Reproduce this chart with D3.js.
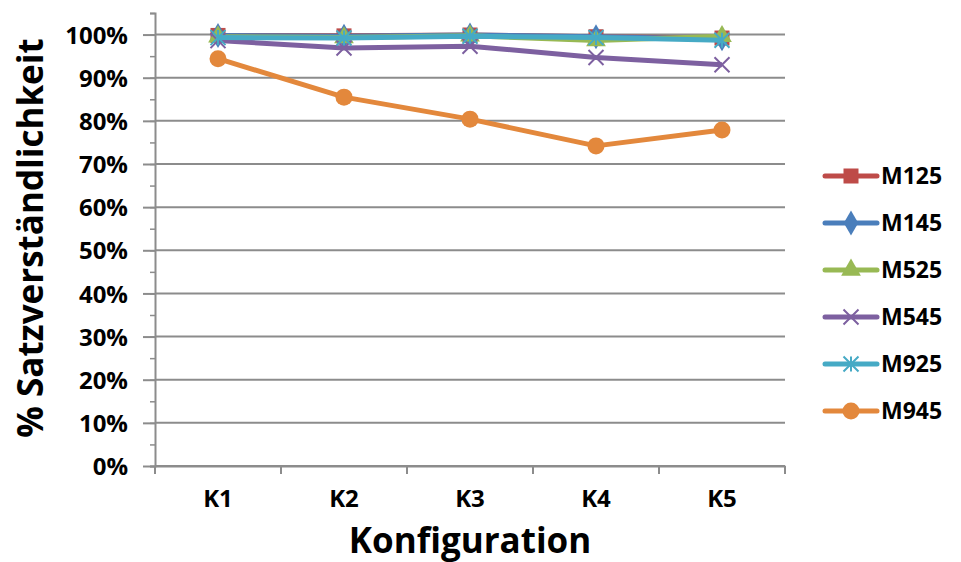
<!DOCTYPE html>
<html>
<head>
<meta charset="utf-8">
<script src="https://cdn.jsdelivr.net/npm/d3@7"></script>
<style>
    body { margin: 0; background: #fff; }
    text { font-family: "Open Sans", "Noto Sans", sans-serif; font-weight: bold; fill: #000; }
</style>
</head>
<body>
<div id="chart"></div>
<script>
// Chart data
const categories = ['K1', 'K2', 'K3', 'K4', 'K5'];
const seriesNames = ['M125', 'M145', 'M525', 'M545', 'M925', 'M945'];
const m125 = [0.998, 0.997, 0.999, 0.995, 0.992];
const m145 = [0.998, 0.996, 0.999, 0.995, 0.990];
const m525 = [0.995, 0.993, 0.997, 0.986, 0.996];
const m545 = [0.986, 0.969, 0.973, 0.947, 0.930];
const m925 = [0.993, 0.992, 0.996, 0.993, 0.987];
const m945 = [0.944, 0.855, 0.804, 0.742, 0.779];
const yTicks = [0, 0.1, 0.2, 0.3, 0.4, 0.5, 0.6, 0.7, 0.8, 0.9, 1.0];

const seriesValues = [m125, m145, m525, m545, m925, m945];
const colors = ['#BE4B48', '#4A7EBB', '#98B954', '#7D60A0', '#46AAC5', '#E3883C'];
const shapes = ['square', 'diamond', 'triangle', 'x', 'star', 'circle'];

const width = 961;
const height = 562;
const margin = { top: 13, right: 176, bottom: 96, left: 155 };

const svg = d3.select('#chart')
    .append('svg')
    .attr('width', width)
    .attr('height', height);

const x = d3.scaleBand()
    .domain(categories)
    .range([margin.left, width - margin.right]);

const y = d3.scaleLinear()
    .domain([0, 1.05])
    .range([height - margin.bottom, margin.top]);

// Gridlines
svg.append('g')
    .selectAll('line')
    .data(yTicks)
    .join('line')
    .attr('x1', margin.left)
    .attr('x2', width - margin.right)
    .attr('y1', d => y(d))
    .attr('y2', d => y(d))
    .attr('stroke', '#8c8c8c')
    .attr('stroke-width', 2);

// Y axis with minor ticks
const yAxis = svg.append('g')
    .attr('transform', `translate(${margin.left},0)`);
yAxis.call(d3.axisLeft(y).tickValues(d3.range(0, 1.051, 0.05)).tickSize(5).tickFormat(''));
yAxis.call(g => g.select('.domain').attr('stroke', '#8c8c8c').attr('stroke-width', 2));
yAxis.selectAll('.tick line').attr('stroke', '#8c8c8c').attr('stroke-width', 1.5);

const yMajor = svg.append('g')
    .attr('transform', `translate(${margin.left},0)`)
    .call(d3.axisLeft(y).tickValues(yTicks).tickSize(12).tickPadding(15).tickFormat(d3.format('.0%')));
yMajor.select('.domain').remove();
yMajor.selectAll('.tick line').attr('stroke', '#8c8c8c').attr('stroke-width', 2);
yMajor.selectAll('.tick text').attr('font-size', 24).attr('dy', '0.36em');

// X axis
const xAxis = svg.append('g')
    .attr('transform', `translate(0,${y(0)})`)
    .call(d3.axisBottom(x).tickSize(0).tickPadding(24));
xAxis.select('.domain').attr('stroke', '#8c8c8c').attr('stroke-width', 2);
xAxis.selectAll('.tick text').attr('font-size', 24);

svg.append('g')
    .selectAll('line')
    .data(categories.concat(['end']))
    .join('line')
    .attr('x1', (d, i) => margin.left + i * x.bandwidth())
    .attr('x2', (d, i) => margin.left + i * x.bandwidth())
    .attr('y1', y(0))
    .attr('y2', y(0) + 8)
    .attr('stroke', '#8c8c8c')
    .attr('stroke-width', 2);

// Axis titles
svg.append('text')
    .attr('x', x.range()[0] + (x.range()[1] - x.range()[0]) / 2)
    .attr('y', 553)
    .attr('text-anchor', 'middle')
    .attr('font-size', 35)
    .text('Konfiguration');

svg.append('text')
    .attr('transform', 'translate(43,238) rotate(-90)')
    .attr('text-anchor', 'middle')
    .attr('font-size', 35)
    .text('% Satzverständlichkeit');

// Marker drawing
function drawMarker(sel, shape, color, size) {
    const s = size;
    if (shape === 'square') {
        sel.append('rect').attr('x', -s / 2).attr('y', -s / 2).attr('width', s).attr('height', s).attr('fill', color);
    } else if (shape === 'diamond') {
        sel.append('path').attr('d', d3.symbol(d3.symbolDiamond, s * s * 0.8)()).attr('fill', color);
    } else if (shape === 'triangle') {
        sel.append('path').attr('d', d3.symbol(d3.symbolTriangle, s * s * 0.75)()).attr('fill', color);
    } else if (shape === 'x') {
        sel.append('path').attr('d', `M${-s / 2},${-s / 2}L${s / 2},${s / 2}M${-s / 2},${s / 2}L${s / 2},${-s / 2}`)
            .attr('stroke', color).attr('stroke-width', 2).attr('fill', 'none');
    } else if (shape === 'star') {
        sel.append('path').attr('d', `M${-s / 2},${-s / 2}L${s / 2},${s / 2}M${-s / 2},${s / 2}L${s / 2},${-s / 2}M0,${-s / 2}L0,${s / 2}`)
            .attr('stroke', color).attr('stroke-width', 2).attr('fill', 'none');
    } else {
        sel.append('circle').attr('r', s / 2 + 1).attr('fill', color);
    }
}

const line = d3.line()
    .x((d, i) => x(categories[i]) + x.bandwidth() / 2)
    .y(d => y(d));

seriesValues.forEach((values, k) => {
    const g = svg.append('g');
    g.append('path')
        .datum(values)
        .attr('d', line)
        .attr('fill', 'none')
        .attr('stroke', colors[k])
        .attr('stroke-width', 5)
        .attr('stroke-linejoin', 'round');
    values.forEach((v, i) => {
        const m = g.append('g')
            .attr('transform', `translate(${x(categories[i]) + x.bandwidth() / 2},${y(v)})`);
        drawMarker(m, shapes[k], colors[k], 15);
    });
});

// Legend
const legend = svg.append('g');
seriesNames.forEach((name, k) => {
    const ly = 176 + k * 47;
    legend.append('line')
        .attr('x1', 825).attr('x2', 877)
        .attr('y1', ly).attr('y2', ly)
        .attr('stroke', colors[k])
        .attr('stroke-width', 5)
        .attr('stroke-linecap', 'round');
    const m = legend.append('g').attr('transform', `translate(851,${ly})`);
    drawMarker(m, shapes[k], colors[k], 15);
    legend.append('text')
        .attr('x', 881)
        .attr('y', ly)
        .attr('dy', '0.36em')
        .attr('font-size', 23)
        .text(name);
});
</script>
</body>
</html>
